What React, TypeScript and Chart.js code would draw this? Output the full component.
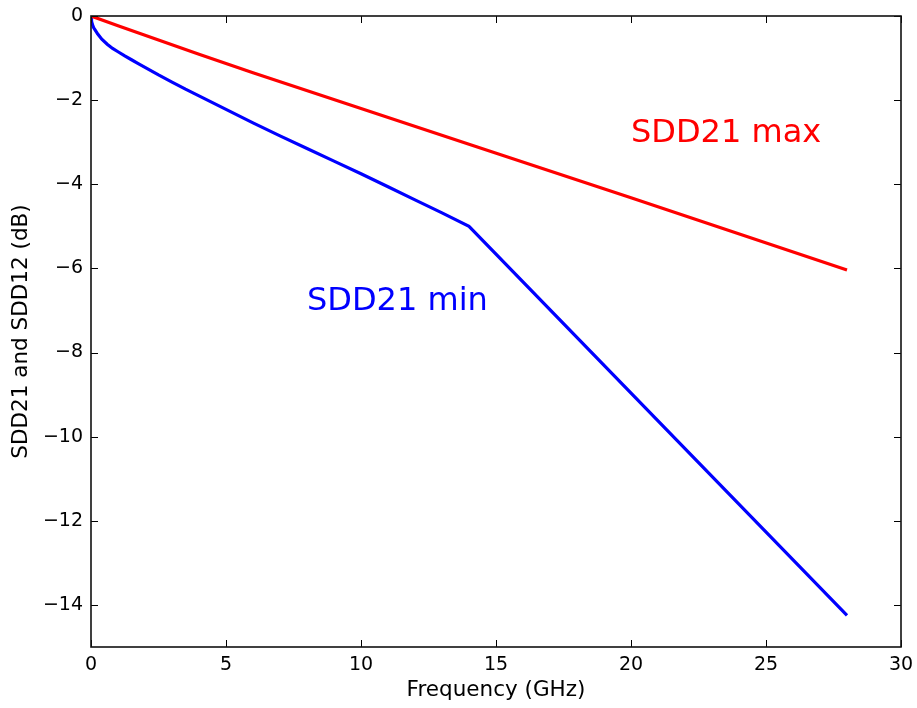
import React, { useEffect, useRef } from "react";
import { Chart, registerables } from "chart.js";

Chart.register(...registerables);

const FREQ_MAX = [0, 1, 2, 4, 6, 10, 14, 20, 28];
const SDD21_MAX = [0, -0.23, -0.46, -0.91, -1.35, -2.2, -3.05, -4.32, -6.04];

const FREQ_MIN = [0, 0.02, 0.05, 0.1, 0.15, 0.25, 0.4, 0.6, 0.8, 1.0, 1.25, 1.5, 1.75, 2, 2.5, 3, 3.5, 4, 5, 6, 7, 8, 9, 10, 11, 12, 13, 14, 28];
const SDD21_MIN = [0, -0.12, -0.2, -0.28, -0.33, -0.43, -0.55, -0.67, -0.77, -0.85, -0.95, -1.04, -1.13, -1.22, -1.4, -1.57, -1.74, -1.9, -2.22, -2.54, -2.85, -3.15, -3.45, -3.75, -4.06, -4.37, -4.68, -5.0, -14.25];

const X_TICKS = [0, 5, 10, 15, 20, 25, 30];
const Y_TICKS = [0, -2, -4, -6, -8, -10, -12, -14];

const LABELS = [
  { text: "SDD21 max", x: 20, y: -3, color: "#ff0000" },
  { text: "SDD21 min", x: 8, y: -7, color: "#0000ff" },
];

const FONT = "'DejaVu Sans', sans-serif";

const framePlugin = {
  id: "frame",
  afterDatasetsDraw(chart: any) {
    const { ctx, chartArea } = chart;
    const { left, right, top, bottom } = chartArea;
    const xs = chart.scales.x;
    const ys = chart.scales.y;
    ctx.save();
    ctx.textBaseline = "alphabetic";
    ctx.textAlign = "left";
    ctx.font = `32px ${FONT}`;
    for (const l of LABELS) {
      ctx.fillStyle = l.color;
      ctx.fillText(l.text, xs.getPixelForValue(l.x), ys.getPixelForValue(l.y));
    }
    const tl = 7;
    ctx.strokeStyle = "#000";
    ctx.lineWidth = 1;
    ctx.beginPath();
    for (const t of X_TICKS) {
      const px = Math.round(xs.getPixelForValue(t)) + 0.5;
      ctx.moveTo(px, bottom);
      ctx.lineTo(px, bottom - tl);
      ctx.moveTo(px, top);
      ctx.lineTo(px, top + tl);
    }
    for (const t of Y_TICKS) {
      const py = Math.round(ys.getPixelForValue(t)) + 0.5;
      ctx.moveTo(left, py);
      ctx.lineTo(left + tl, py);
      ctx.moveTo(right, py);
      ctx.lineTo(right - tl, py);
    }
    ctx.stroke();
    ctx.lineWidth = 1.6;
    ctx.strokeStyle = "#111";
    ctx.strokeRect(left, top, right - left, bottom - top);
    ctx.restore();
  },
};

function toPoints(xs: number[], ys: number[]) {
  return xs.map((x, i) => ({ x, y: ys[i] }));
}

export default function App() {
  const ref = useRef<HTMLCanvasElement | null>(null);
  useEffect(() => {
    if (!ref.current) return;
    const chart = new Chart(ref.current, {
      type: "scatter",
      data: {
        datasets: [
          {
            label: "SDD21 max",
            data: toPoints(FREQ_MAX, SDD21_MAX),
            showLine: true,
            borderColor: "#ff0000",
            borderWidth: 3.2,
            pointRadius: 0,
            tension: 0,
          },
          {
            label: "SDD21 min",
            data: toPoints(FREQ_MIN, SDD21_MIN),
            showLine: true,
            borderColor: "#0000ff",
            borderWidth: 3.2,
            pointRadius: 0,
            tension: 0,
          },
        ],
      },
      options: {
        responsive: false,
        animation: false,
        layout: { padding: { top: 16, right: 16, left: 0, bottom: 0 } },
        plugins: { legend: { display: false }, tooltip: { enabled: false } },
        scales: {
          x: {
            type: "linear",
            min: 0,
            max: 30,
            grid: { display: false },
            border: { display: false },
            afterBuildTicks: (s: any) => {
              s.ticks = X_TICKS.map((v) => ({ value: v }));
            },
            afterFit: (s: any) => {
              s.height = 61;
            },
            ticks: {
              color: "#000",
              font: { family: FONT, size: 19 },
              padding: -1,
              maxRotation: 0,
              callback: (v: any) => String(v).replace("-", "\u2212"),
            },
            title: {
              display: true,
              text: "Frequency (GHz)",
              color: "#000",
              font: { family: FONT, size: 21.5 },
              padding: { top: 0, bottom: 5 },
            },
          },
          y: {
            type: "linear",
            min: -15,
            max: 0,
            grid: { display: false },
            border: { display: false },
            afterBuildTicks: (s: any) => {
              s.ticks = Y_TICKS.map((v) => ({ value: v }));
            },
            afterFit: (s: any) => {
              s.width = 91;
            },
            ticks: {
              color: "#000",
              font: { family: FONT, size: 19 },
              padding: 0,
              callback: (v: any) => String(v).replace("-", "\u2212"),
            },
            title: {
              display: true,
              text: "SDD21 and SDD12 (dB)",
              color: "#000",
              font: { family: FONT, size: 21.5 },
              padding: { top: 9, bottom: 0 },
            },
          },
        },
      },
      plugins: [framePlugin],
    });
    return () => chart.destroy();
  }, []);
  return (
    <div style={{ position: "absolute", left: 0, top: 0, width: 917, height: 708, background: "#fff" }}>
      <canvas ref={ref} width={917} height={708} style={{ display: "block" }} />
    </div>
  );
}
